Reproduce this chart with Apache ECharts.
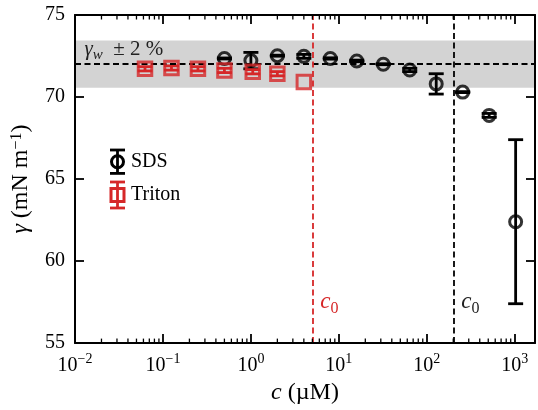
<!DOCTYPE html>
<html>
<head>
<meta charset="utf-8">
<script src="https://cdn.jsdelivr.net/npm/echarts@6/dist/echarts.min.js"></script>
<style>
  html, body { margin: 0; padding: 0; background: #fff; }
  #chart { width: 538px; height: 410px; }
</style>
</head>
<body>
<div id="chart"></div>
<script>
// Surface tension of SDS and Triton solutions against concentration (µM)
const sdsConc   = [0.5, 1, 2, 4, 8, 16, 32, 64, 128, 256, 512, 1024];
const sdsGamma  = [72.35, 72.22, 72.52, 72.48, 72.35, 72.2, 72.0, 71.65, 70.8, 70.3, 68.88, 62.4];
const sdsErr    = [0.03, 0.5, 0.03, 0.12, 0.04, 0.05, 0.03, 0.1, 0.62, 0.03, 0.12, 5.0];

const tritonConc  = [0.0625, 0.125, 0.25, 0.5, 1.05, 2, 4];
const tritonGamma = [71.72, 71.77, 71.72, 71.62, 71.54, 71.42, 70.92];
const tritonErr   = [0.13, 0.13, 0.13, 0.13, 0.13, 0.13, 0];

const gammaWater = 72;       // mN/m, pure water
const bandPercent = 2;       // ± band around gammaWater
const c0Triton = 5;          // µM
const c0Sds = 200;           // µM

const xRange = [0.01, 1700];
const yRange = [55, 75];
const yStep = 5;

const BLACK = '#000000';
const RED = '#d62728';
const BAND = '#d3d3d3';
const FONT = '"Liberation Serif", "DejaVu Serif", serif';

const chart = echarts.init(document.getElementById('chart'), null, { renderer: 'canvas' });

// minor ticks at 2..9 × 10^k inside the x range
const minorTicks = [];
for (let k = -2; k <= 3; k++) {
  for (let m = 2; m <= 9; m++) {
    const v = m * Math.pow(10, k);
    if (v > xRange[0] && v < xRange[1]) minorTicks.push([v, yRange[0]]);
  }
}

function pairs(xs, ys) { return xs.map((x, i) => [x, ys[i]]); }
function triples(xs, ys, es) { return xs.map((x, i) => [x, ys[i], es[i]]); }

function errorBars(color) {
  return function (params, api) {
    const x = api.value(0), y = api.value(1), e = api.value(2);
    if (!e) return { type: 'group', children: [] };
    const top = api.coord([x, y + e]);
    const bot = api.coord([x, y - e]);
    const hw = 7.5;
    const style = { stroke: color, lineWidth: 2.8, fill: null };
    return {
      type: 'group',
      children: [
        { type: 'line', shape: { x1: top[0], y1: top[1], x2: bot[0], y2: bot[1] }, style },
        { type: 'line', shape: { x1: top[0] - hw, y1: top[1], x2: top[0] + hw, y2: top[1] }, style },
        { type: 'line', shape: { x1: bot[0] - hw, y1: bot[1], x2: bot[0] + hw, y2: bot[1] }, style }
      ]
    };
  };
}

function decadeLabel(v) {
  const lg = Math.log10(v);
  const e = Math.round(lg);
  if (Math.abs(lg - e) > 1e-6) return '';
  return '{b|10}{s|' + (e < 0 ? '\u2212' + (-e) : String(e)) + '}';
}

const tickRich = {
  b: { fontSize: 20, fontFamily: FONT, color: BLACK, lineHeight: 24, verticalAlign: 'bottom' },
  s: { fontSize: 14, fontFamily: FONT, color: BLACK, lineHeight: 14, verticalAlign: 'top' }
};

const axisLineStyle = { color: BLACK, width: 2 };
const majorTick = { show: true, inside: true, length: 9, lineStyle: { color: BLACK, width: 1.8 } };

const option = {
  animation: false,
  backgroundColor: '#ffffff',
  grid: { left: 75, right: 1, top: 15, bottom: 65, containLabel: false },
  xAxis: [
    {
      type: 'log', logBase: 10, min: xRange[0], max: xRange[1], position: 'bottom', z: 10,
      axisLine: { show: true, lineStyle: axisLineStyle },
      axisTick: majorTick,
      minorTick: { show: false },
      splitLine: { show: false },
      axisLabel: { formatter: decadeLabel, margin: 9, rich: tickRich },
      name: '{i|c} (\u00b5M)',
      nameLocation: 'middle', nameGap: 37,
      nameTextStyle: {
        fontSize: 24, fontFamily: FONT, color: BLACK,
        rich: { i: { fontSize: 24, fontFamily: FONT, fontStyle: 'italic', color: BLACK } }
      }
    },
    {
      type: 'log', logBase: 10, min: xRange[0], max: xRange[1], position: 'top', z: 10,
      axisLine: { show: true, lineStyle: axisLineStyle },
      axisTick: majorTick,
      splitLine: { show: false },
      axisLabel: { show: false }
    }
  ],
  yAxis: [
    {
      type: 'value', min: yRange[0], max: yRange[1], interval: yStep, position: 'left', z: 10,
      axisLine: { show: true, lineStyle: axisLineStyle },
      axisTick: majorTick,
      splitLine: { show: false },
      axisLabel: { fontSize: 20, fontFamily: FONT, color: BLACK, margin: 10, showMinLabel: true, showMaxLabel: true },
      name: '{i|\u03b3} (mN m{s|\u22121})',
      nameLocation: 'middle', nameGap: 42, nameRotate: 90,
      nameTextStyle: {
        fontSize: 24, fontFamily: FONT, color: BLACK,
        rich: {
          i: { fontSize: 24, fontFamily: FONT, fontStyle: 'italic', color: BLACK },
          s: { fontSize: 16, fontFamily: FONT, color: BLACK, verticalAlign: 'top', lineHeight: 14 }
        }
      }
    },
    {
      type: 'value', min: yRange[0], max: yRange[1], interval: yStep, position: 'right', z: 10,
      axisLine: { show: true, lineStyle: axisLineStyle },
      axisTick: majorTick,
      splitLine: { show: false },
      axisLabel: { show: false }
    }
  ],
  series: [
    {
      // reference band and guide lines
      type: 'line', z: 1, silent: true,
      data: [[xRange[0], gammaWater]],
      showSymbol: false, symbol: 'none',
      lineStyle: { opacity: 0 },
      markArea: {
        silent: true,
        itemStyle: { color: BAND, opacity: 1 },
        data: [[
          { yAxis: gammaWater * (1 - bandPercent / 100) },
          { yAxis: gammaWater * (1 + bandPercent / 100) }
        ]]
      },
      markLine: {
        silent: true, symbol: ['none', 'none'], label: { show: false },
        data: [
          { yAxis: gammaWater, lineStyle: { color: BLACK, width: 1.8, type: [6, 3.5] } },
          { xAxis: c0Triton, lineStyle: { color: RED, width: 1.8, type: [6, 3.5] } },
          { xAxis: c0Sds, lineStyle: { color: BLACK, width: 1.8, type: [6, 3.5] } }
        ]
      }
    },
    {
      // minor log ticks on bottom and top
      type: 'custom', z: 11, silent: true,
      data: minorTicks,
      renderItem: function (params, api) {
        const v = api.value(0);
        const b = api.coord([v, yRange[0]]);
        const t = api.coord([v, yRange[1]]);
        const style = { stroke: BLACK, lineWidth: 1.3 };
        return {
          type: 'group',
          children: [
            { type: 'line', shape: { x1: b[0], y1: b[1], x2: b[0], y2: b[1] - 4.5 }, style },
            { type: 'line', shape: { x1: t[0], y1: t[1], x2: t[0], y2: t[1] + 4.5 }, style }
          ]
        };
      }
    },
    {
      name: 'SDS err', type: 'custom', z: 4, silent: true,
      data: triples(sdsConc, sdsGamma, sdsErr),
      encode: { x: 0, y: 1 },
      renderItem: errorBars(BLACK)
    },
    {
      name: 'Triton err', type: 'custom', z: 4, silent: true,
      data: triples(tritonConc, tritonGamma, tritonErr),
      encode: { x: 0, y: 1 },
      renderItem: errorBars(RED)
    },
    {
      name: 'SDS', type: 'scatter', z: 5, silent: true,
      data: pairs(sdsConc, sdsGamma),
      symbol: 'circle', symbolSize: 12,
      itemStyle: { color: 'rgba(0,0,0,0)', borderColor: BLACK, borderWidth: 3 }
    },
    {
      name: 'Triton', type: 'scatter', z: 5, silent: true,
      data: pairs(tritonConc, tritonGamma),
      symbol: 'rect', symbolSize: 13.5,
      itemStyle: { color: 'rgba(0,0,0,0)', borderColor: RED, borderWidth: 3 }
    }
  ]
};

chart.setOption(option);

// annotations placed in data coordinates
const toPx = (x, y) => chart.convertToPixel({ xAxisIndex: 0, yAxisIndex: 0 }, [x, y]);
const bandLabelPos = toPx(0.0128, 73.55);
const c0TritonPos = toPx(c0Triton, 57.4);
const c0SdsPos = toPx(c0Sds, 57.4);

const legendX = 117.5;
const sdsY = 161.7, tritonY = 195;

function legendErr(cx, cy, half, color) {
  const st = { stroke: color, lineWidth: 2.8, fill: null };
  return [
    { type: 'line', shape: { x1: cx, y1: cy - half, x2: cx, y2: cy + half }, style: st },
    { type: 'line', shape: { x1: cx - 7.5, y1: cy - half, x2: cx + 7.5, y2: cy - half }, style: st },
    { type: 'line', shape: { x1: cx - 7.5, y1: cy + half, x2: cx + 7.5, y2: cy + half }, style: st }
  ];
}

function c0Label(pos, color) {
  return {
    type: 'text', x: pos[0] + 8, y: pos[1], z: 20,
    style: {
      text: '{c|c}{o|0}', verticalAlign: 'middle', fill: color,
      rich: {
        c: { fontSize: 23, fontFamily: FONT, fontStyle: 'italic', fill: color, lineHeight: 26, verticalAlign: 'top' },
        o: { fontSize: 16, fontFamily: FONT, fill: color, lineHeight: 16, verticalAlign: 'bottom' }
      }
    }
  };
}

chart.setOption({
  graphic: [
    {
      type: 'text', x: bandLabelPos[0], y: bandLabelPos[1], z: 20,
      style: {
        text: '{i|\u03b3}{w|w}{t|  \u00b1 2 %}',
        verticalAlign: 'top', fill: '#222',
        rich: {
          i: { fontSize: 21, fontFamily: FONT, fontStyle: 'italic', fill: '#222', lineHeight: 24, verticalAlign: 'top' },
          w: { fontSize: 15, fontFamily: FONT, fontStyle: 'italic', fill: '#222', lineHeight: 14, verticalAlign: 'bottom' },
          t: { fontSize: 21, fontFamily: FONT, fill: '#222', lineHeight: 24, verticalAlign: 'top' }
        }
      }
    },
    c0Label(c0TritonPos, RED),
    c0Label(c0SdsPos, '#222'),
    // legend
    ...legendErr(legendX, sdsY, 11.7, BLACK).map(e => Object.assign(e, { z: 20 })),
    { type: 'circle', z: 20, shape: { cx: legendX, cy: sdsY, r: 6 }, style: { stroke: BLACK, lineWidth: 3, fill: null } },
    { type: 'text', z: 20, x: 131, y: sdsY, style: { text: 'SDS', font: '20px ' + FONT, fill: BLACK, verticalAlign: 'middle' } },
    ...legendErr(legendX, tritonY, 13, RED).map(e => Object.assign(e, { z: 20 })),
    { type: 'rect', z: 20, shape: { x: legendX - 6.5, y: tritonY - 6.5, width: 13, height: 13 }, style: { stroke: RED, lineWidth: 3, fill: null } },
    { type: 'text', z: 20, x: 131, y: tritonY, style: { text: 'Triton', font: '20px ' + FONT, fill: BLACK, verticalAlign: 'middle' } }
  ]
});
</script>
</body>
</html>
